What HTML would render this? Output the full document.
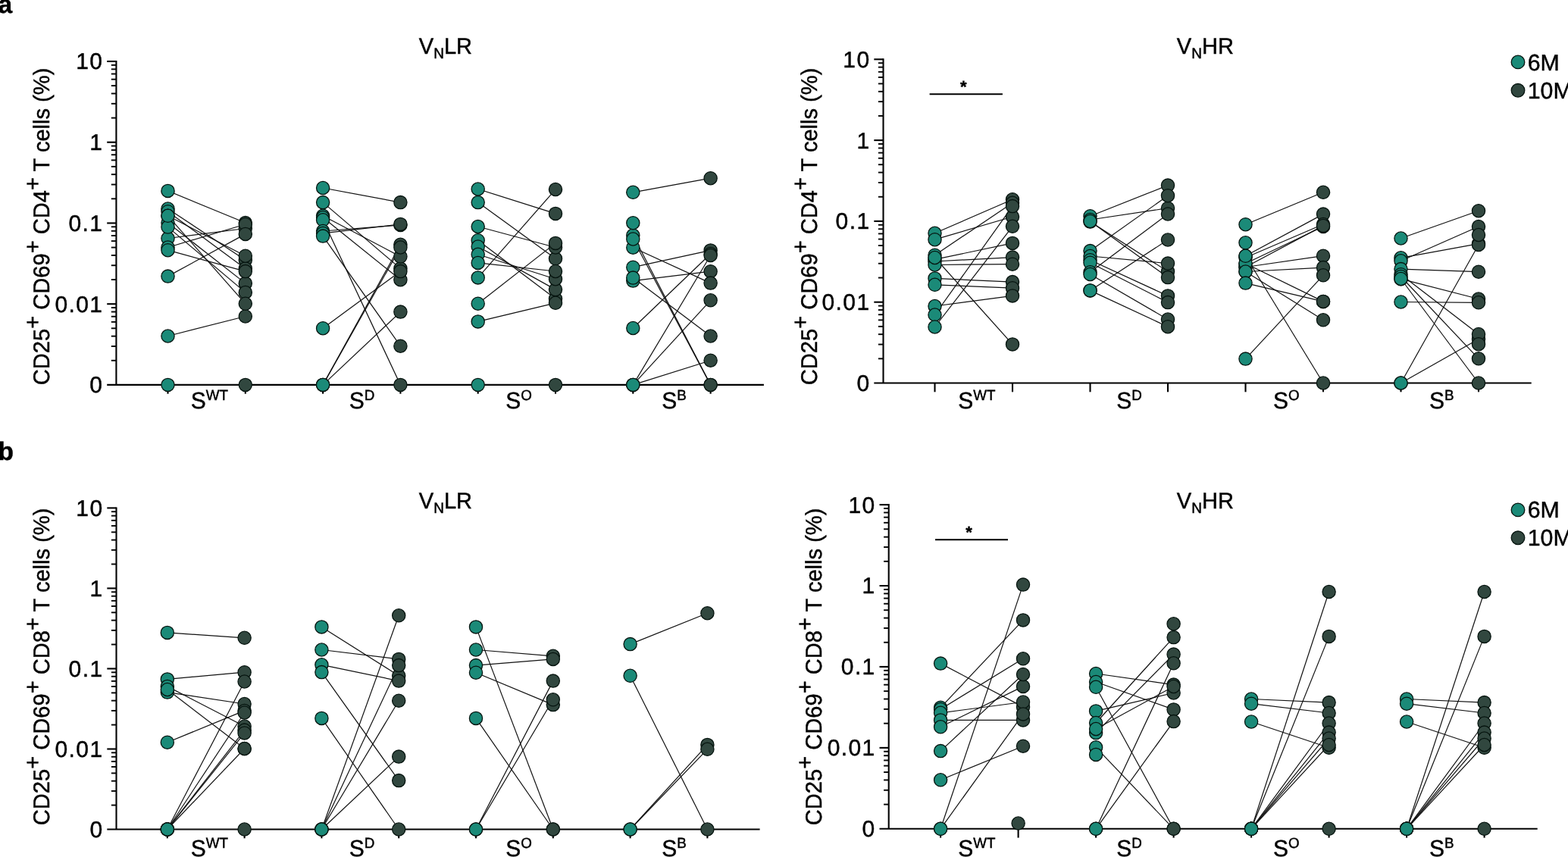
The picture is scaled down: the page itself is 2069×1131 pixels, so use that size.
<!DOCTYPE html>
<html><head><meta charset="utf-8"><style>
html,body{margin:0;padding:0;background:#fff;overflow:hidden}
svg{display:block}
text{font-family:"Liberation Sans",Arial,sans-serif;text-rendering:geometricPrecision;fill:#000;stroke:#000;stroke-width:0.45px}
.pl{font-weight:bold}
.st{font-weight:bold}
.ax{stroke:#000;stroke-width:2.1;fill:none}
.mt{stroke:#000;stroke-width:1.9;fill:none}
.ln{stroke:#111;stroke-width:1.2;fill:none}
.pt{stroke:#06140f;stroke-width:1.3}
</style></head><body>
<svg width="2069" height="1131" viewBox="0 0 2069 1131">
<rect width="2069" height="1131" fill="#fff"/>
<g id="aL">
<line x1="153.4" y1="80.0" x2="153.4" y2="507.9" class="ax"/>
<line x1="141.2" y1="507.9" x2="1007.9" y2="507.9" class="ax"/>
<line x1="141.2" y1="81.00" x2="153.4" y2="81.00" class="ax"/>
<line x1="141.2" y1="187.72" x2="153.4" y2="187.72" class="ax"/>
<line x1="141.2" y1="294.45" x2="153.4" y2="294.45" class="ax"/>
<line x1="141.2" y1="401.17" x2="153.4" y2="401.17" class="ax"/>
<line x1="146.8" y1="155.60" x2="153.4" y2="155.60" class="mt"/>
<line x1="146.8" y1="136.80" x2="153.4" y2="136.80" class="mt"/>
<line x1="146.8" y1="123.47" x2="153.4" y2="123.47" class="mt"/>
<line x1="146.8" y1="113.13" x2="153.4" y2="113.13" class="mt"/>
<line x1="146.8" y1="104.68" x2="153.4" y2="104.68" class="mt"/>
<line x1="146.8" y1="97.53" x2="153.4" y2="97.53" class="mt"/>
<line x1="146.8" y1="91.34" x2="153.4" y2="91.34" class="mt"/>
<line x1="146.8" y1="85.88" x2="153.4" y2="85.88" class="mt"/>
<line x1="146.8" y1="262.32" x2="153.4" y2="262.32" class="mt"/>
<line x1="146.8" y1="243.53" x2="153.4" y2="243.53" class="mt"/>
<line x1="146.8" y1="230.20" x2="153.4" y2="230.20" class="mt"/>
<line x1="146.8" y1="219.85" x2="153.4" y2="219.85" class="mt"/>
<line x1="146.8" y1="211.40" x2="153.4" y2="211.40" class="mt"/>
<line x1="146.8" y1="204.26" x2="153.4" y2="204.26" class="mt"/>
<line x1="146.8" y1="198.07" x2="153.4" y2="198.07" class="mt"/>
<line x1="146.8" y1="192.61" x2="153.4" y2="192.61" class="mt"/>
<line x1="146.8" y1="369.05" x2="153.4" y2="369.05" class="mt"/>
<line x1="146.8" y1="350.25" x2="153.4" y2="350.25" class="mt"/>
<line x1="146.8" y1="336.92" x2="153.4" y2="336.92" class="mt"/>
<line x1="146.8" y1="326.58" x2="153.4" y2="326.58" class="mt"/>
<line x1="146.8" y1="318.13" x2="153.4" y2="318.13" class="mt"/>
<line x1="146.8" y1="310.98" x2="153.4" y2="310.98" class="mt"/>
<line x1="146.8" y1="304.79" x2="153.4" y2="304.79" class="mt"/>
<line x1="146.8" y1="299.33" x2="153.4" y2="299.33" class="mt"/>
<line x1="146.8" y1="475.77" x2="153.4" y2="475.77" class="mt"/>
<line x1="146.8" y1="456.98" x2="153.4" y2="456.98" class="mt"/>
<line x1="146.8" y1="443.65" x2="153.4" y2="443.65" class="mt"/>
<line x1="146.8" y1="433.30" x2="153.4" y2="433.30" class="mt"/>
<line x1="146.8" y1="424.85" x2="153.4" y2="424.85" class="mt"/>
<line x1="146.8" y1="417.71" x2="153.4" y2="417.71" class="mt"/>
<line x1="146.8" y1="411.52" x2="153.4" y2="411.52" class="mt"/>
<line x1="146.8" y1="406.06" x2="153.4" y2="406.06" class="mt"/>
<text transform="translate(136.40,91.40)" font-size="30" class="t" text-anchor="end" letter-spacing="1.4">10</text>
<text transform="translate(136.40,198.12)" font-size="30" class="t" text-anchor="end" letter-spacing="1.4">1</text>
<text transform="translate(136.40,304.85)" font-size="30" class="t" text-anchor="end" letter-spacing="1.4">0.1</text>
<text transform="translate(136.40,411.57)" font-size="30" class="t" text-anchor="end" letter-spacing="1.4">0.01</text>
<text transform="translate(136.40,518.30)" font-size="30" class="t" text-anchor="end" letter-spacing="1.4">0</text>
<line x1="221.50" y1="507.9" x2="221.50" y2="519.6999999999999" class="ax"/>
<line x1="323.80" y1="507.9" x2="323.80" y2="519.6999999999999" class="ax"/>
<line x1="426.10" y1="507.9" x2="426.10" y2="519.6999999999999" class="ax"/>
<line x1="528.40" y1="507.9" x2="528.40" y2="519.6999999999999" class="ax"/>
<line x1="630.70" y1="507.9" x2="630.70" y2="519.6999999999999" class="ax"/>
<line x1="733.00" y1="507.9" x2="733.00" y2="519.6999999999999" class="ax"/>
<line x1="835.30" y1="507.9" x2="835.30" y2="519.6999999999999" class="ax"/>
<line x1="937.60" y1="507.9" x2="937.60" y2="519.6999999999999" class="ax"/>
<text transform="translate(251.65,539.40) scale(1.0,1.02)" font-size="30" class="t">S<tspan font-size="18.8" dy="-11.3">WT</tspan></text>
<text transform="translate(460.65,539.40) scale(1.0,1.02)" font-size="30" class="t">S<tspan font-size="18.8" dy="-11.3">D</tspan></text>
<text transform="translate(667.35,539.40) scale(1.0,1.02)" font-size="30" class="t">S<tspan font-size="18.8" dy="-11.3">O</tspan></text>
<text transform="translate(873.25,539.40) scale(1.0,1.02)" font-size="30" class="t">S<tspan font-size="18.8" dy="-11.3">B</tspan></text>
<text transform="translate(552.86,70.70) scale(1.0,1.03)" font-size="29" class="t">V<tspan font-size="19" dy="5.8">N</tspan><tspan dy="-5.8">LR</tspan></text>
<text transform="translate(64.50,508.15) rotate(-90) scale(1.0,1.03)" font-size="29.1" class="t">CD25<tspan dy="-11.1">+</tspan><tspan dy="11.1"> CD69</tspan><tspan dy="-11.1">+</tspan><tspan dy="11.1"> CD4</tspan><tspan dy="-11.1">+</tspan><tspan dy="11.1"> T cells (%)</tspan></text>
<line x1="221.5" y1="251.9" x2="323.8" y2="294" class="ln"/>
<line x1="221.5" y1="314.5" x2="323.8" y2="301.5" class="ln"/>
<line x1="221.5" y1="326.5" x2="323.8" y2="296" class="ln"/>
<line x1="221.5" y1="364.6" x2="323.8" y2="308.9" class="ln"/>
<line x1="221.5" y1="443.5" x2="323.8" y2="417.5" class="ln"/>
<line x1="221.5" y1="507.9" x2="323.8" y2="507.9" class="ln"/>
<line x1="221.5" y1="275.5" x2="323.8" y2="343.2" class="ln"/>
<line x1="221.5" y1="279.2" x2="323.8" y2="354.4" class="ln"/>
<line x1="221.5" y1="284.8" x2="323.8" y2="337.7" class="ln"/>
<line x1="221.5" y1="294" x2="323.8" y2="373.9" class="ln"/>
<line x1="221.5" y1="299.6" x2="323.8" y2="385.9" class="ln"/>
<line x1="221.5" y1="330.2" x2="323.8" y2="358.1" class="ln"/>
<line x1="221.5" y1="284.8" x2="323.8" y2="400.8" class="ln"/>
<circle cx="221.5" cy="251.9" r="8.6" fill="#1b8a78" class="pt"/>
<circle cx="221.5" cy="314.5" r="8.6" fill="#1b8a78" class="pt"/>
<circle cx="221.5" cy="326.5" r="8.6" fill="#1b8a78" class="pt"/>
<circle cx="221.5" cy="364.6" r="8.6" fill="#1b8a78" class="pt"/>
<circle cx="221.5" cy="443.5" r="8.6" fill="#1b8a78" class="pt"/>
<circle cx="221.5" cy="507.9" r="8.6" fill="#1b8a78" class="pt"/>
<circle cx="221.5" cy="275.5" r="8.6" fill="#1b8a78" class="pt"/>
<circle cx="221.5" cy="279.2" r="8.6" fill="#1b8a78" class="pt"/>
<circle cx="221.5" cy="284.8" r="8.6" fill="#1b8a78" class="pt"/>
<circle cx="221.5" cy="294" r="8.6" fill="#1b8a78" class="pt"/>
<circle cx="221.5" cy="299.6" r="8.6" fill="#1b8a78" class="pt"/>
<circle cx="221.5" cy="330.2" r="8.6" fill="#1b8a78" class="pt"/>
<circle cx="221.5" cy="284.8" r="8.6" fill="#1b8a78" class="pt"/>
<circle cx="323.8" cy="294" r="8.6" fill="#31473f" class="pt"/>
<circle cx="323.8" cy="301.5" r="8.6" fill="#31473f" class="pt"/>
<circle cx="323.8" cy="296" r="8.6" fill="#31473f" class="pt"/>
<circle cx="323.8" cy="308.9" r="8.6" fill="#31473f" class="pt"/>
<circle cx="323.8" cy="417.5" r="8.6" fill="#31473f" class="pt"/>
<circle cx="323.8" cy="507.9" r="8.6" fill="#31473f" class="pt"/>
<circle cx="323.8" cy="343.2" r="8.6" fill="#31473f" class="pt"/>
<circle cx="323.8" cy="354.4" r="8.6" fill="#31473f" class="pt"/>
<circle cx="323.8" cy="337.7" r="8.6" fill="#31473f" class="pt"/>
<circle cx="323.8" cy="373.9" r="8.6" fill="#31473f" class="pt"/>
<circle cx="323.8" cy="385.9" r="8.6" fill="#31473f" class="pt"/>
<circle cx="323.8" cy="358.1" r="8.6" fill="#31473f" class="pt"/>
<circle cx="323.8" cy="400.8" r="8.6" fill="#31473f" class="pt"/>
<line x1="426.1" y1="248" x2="528.4" y2="267.1" class="ln"/>
<line x1="426.1" y1="267.1" x2="528.4" y2="354.4" class="ln"/>
<line x1="426.1" y1="284.8" x2="528.4" y2="338.6" class="ln"/>
<line x1="426.1" y1="287" x2="528.4" y2="369.2" class="ln"/>
<line x1="426.1" y1="290.3" x2="528.4" y2="507.9" class="ln"/>
<line x1="426.1" y1="305" x2="528.4" y2="297" class="ln"/>
<line x1="426.1" y1="307.9" x2="528.4" y2="295.9" class="ln"/>
<line x1="426.1" y1="311.6" x2="528.4" y2="456.7" class="ln"/>
<line x1="426.1" y1="433.2" x2="528.4" y2="358.1" class="ln"/>
<line x1="426.1" y1="507.9" x2="528.4" y2="322.8" class="ln"/>
<line x1="426.1" y1="507.9" x2="528.4" y2="326.5" class="ln"/>
<line x1="426.1" y1="507.9" x2="528.4" y2="411.6" class="ln"/>
<circle cx="426.1" cy="248" r="8.6" fill="#1b8a78" class="pt"/>
<circle cx="426.1" cy="267.1" r="8.6" fill="#1b8a78" class="pt"/>
<circle cx="426.1" cy="284.8" r="8.6" fill="#1b8a78" class="pt"/>
<circle cx="426.1" cy="287" r="8.6" fill="#1b8a78" class="pt"/>
<circle cx="426.1" cy="290.3" r="8.6" fill="#1b8a78" class="pt"/>
<circle cx="426.1" cy="305" r="8.6" fill="#1b8a78" class="pt"/>
<circle cx="426.1" cy="307.9" r="8.6" fill="#1b8a78" class="pt"/>
<circle cx="426.1" cy="311.6" r="8.6" fill="#1b8a78" class="pt"/>
<circle cx="426.1" cy="433.2" r="8.6" fill="#1b8a78" class="pt"/>
<circle cx="426.1" cy="507.9" r="8.6" fill="#1b8a78" class="pt"/>
<circle cx="426.1" cy="507.9" r="8.6" fill="#1b8a78" class="pt"/>
<circle cx="426.1" cy="507.9" r="8.6" fill="#1b8a78" class="pt"/>
<circle cx="528.4" cy="267.1" r="8.6" fill="#31473f" class="pt"/>
<circle cx="528.4" cy="354.4" r="8.6" fill="#31473f" class="pt"/>
<circle cx="528.4" cy="338.6" r="8.6" fill="#31473f" class="pt"/>
<circle cx="528.4" cy="369.2" r="8.6" fill="#31473f" class="pt"/>
<circle cx="528.4" cy="507.9" r="8.6" fill="#31473f" class="pt"/>
<circle cx="528.4" cy="297" r="8.6" fill="#31473f" class="pt"/>
<circle cx="528.4" cy="295.9" r="8.6" fill="#31473f" class="pt"/>
<circle cx="528.4" cy="456.7" r="8.6" fill="#31473f" class="pt"/>
<circle cx="528.4" cy="358.1" r="8.6" fill="#31473f" class="pt"/>
<circle cx="528.4" cy="322.8" r="8.6" fill="#31473f" class="pt"/>
<circle cx="528.4" cy="326.5" r="8.6" fill="#31473f" class="pt"/>
<circle cx="528.4" cy="411.6" r="8.6" fill="#31473f" class="pt"/>
<line x1="630.7" y1="249.5" x2="733.0" y2="281.9" class="ln"/>
<line x1="630.7" y1="267.1" x2="733.0" y2="341.3" class="ln"/>
<line x1="630.7" y1="299" x2="733.0" y2="326.5" class="ln"/>
<line x1="630.7" y1="317.2" x2="733.0" y2="394.2" class="ln"/>
<line x1="630.7" y1="325.5" x2="733.0" y2="382.1" class="ln"/>
<line x1="630.7" y1="335.8" x2="733.0" y2="368.2" class="ln"/>
<line x1="630.7" y1="346.9" x2="733.0" y2="358" class="ln"/>
<line x1="630.7" y1="366.4" x2="733.0" y2="250" class="ln"/>
<line x1="630.7" y1="400.7" x2="733.0" y2="320.9" class="ln"/>
<line x1="630.7" y1="424.4" x2="733.0" y2="399.8" class="ln"/>
<line x1="630.7" y1="507.9" x2="733.0" y2="507.9" class="ln"/>
<circle cx="630.7" cy="249.5" r="8.6" fill="#1b8a78" class="pt"/>
<circle cx="630.7" cy="267.1" r="8.6" fill="#1b8a78" class="pt"/>
<circle cx="630.7" cy="299" r="8.6" fill="#1b8a78" class="pt"/>
<circle cx="630.7" cy="317.2" r="8.6" fill="#1b8a78" class="pt"/>
<circle cx="630.7" cy="325.5" r="8.6" fill="#1b8a78" class="pt"/>
<circle cx="630.7" cy="335.8" r="8.6" fill="#1b8a78" class="pt"/>
<circle cx="630.7" cy="346.9" r="8.6" fill="#1b8a78" class="pt"/>
<circle cx="630.7" cy="366.4" r="8.6" fill="#1b8a78" class="pt"/>
<circle cx="630.7" cy="400.7" r="8.6" fill="#1b8a78" class="pt"/>
<circle cx="630.7" cy="424.4" r="8.6" fill="#1b8a78" class="pt"/>
<circle cx="630.7" cy="507.9" r="8.6" fill="#1b8a78" class="pt"/>
<circle cx="733.0" cy="281.9" r="8.6" fill="#31473f" class="pt"/>
<circle cx="733.0" cy="341.3" r="8.6" fill="#31473f" class="pt"/>
<circle cx="733.0" cy="326.5" r="8.6" fill="#31473f" class="pt"/>
<circle cx="733.0" cy="394.2" r="8.6" fill="#31473f" class="pt"/>
<circle cx="733.0" cy="382.1" r="8.6" fill="#31473f" class="pt"/>
<circle cx="733.0" cy="368.2" r="8.6" fill="#31473f" class="pt"/>
<circle cx="733.0" cy="358" r="8.6" fill="#31473f" class="pt"/>
<circle cx="733.0" cy="250" r="8.6" fill="#31473f" class="pt"/>
<circle cx="733.0" cy="320.9" r="8.6" fill="#31473f" class="pt"/>
<circle cx="733.0" cy="399.8" r="8.6" fill="#31473f" class="pt"/>
<circle cx="733.0" cy="507.9" r="8.6" fill="#31473f" class="pt"/>
<line x1="835.3" y1="253.8" x2="937.6" y2="235.2" class="ln"/>
<line x1="835.3" y1="352.7" x2="937.6" y2="330.4" class="ln"/>
<line x1="835.3" y1="433" x2="937.6" y2="335" class="ln"/>
<line x1="835.3" y1="370.6" x2="937.6" y2="358.2" class="ln"/>
<line x1="835.3" y1="326.7" x2="937.6" y2="373.6" class="ln"/>
<line x1="835.3" y1="507.9" x2="937.6" y2="337" class="ln"/>
<line x1="835.3" y1="507.9" x2="937.6" y2="396.3" class="ln"/>
<line x1="835.3" y1="366.6" x2="937.6" y2="443.5" class="ln"/>
<line x1="835.3" y1="507.9" x2="937.6" y2="475.7" class="ln"/>
<line x1="835.3" y1="310.5" x2="937.6" y2="507.9" class="ln"/>
<line x1="835.3" y1="315.5" x2="937.6" y2="507.9" class="ln"/>
<circle cx="835.3" cy="253.8" r="8.6" fill="#1b8a78" class="pt"/>
<circle cx="835.3" cy="352.7" r="8.6" fill="#1b8a78" class="pt"/>
<circle cx="835.3" cy="433" r="8.6" fill="#1b8a78" class="pt"/>
<circle cx="835.3" cy="370.6" r="8.6" fill="#1b8a78" class="pt"/>
<circle cx="835.3" cy="326.7" r="8.6" fill="#1b8a78" class="pt"/>
<circle cx="835.3" cy="507.9" r="8.6" fill="#1b8a78" class="pt"/>
<circle cx="835.3" cy="507.9" r="8.6" fill="#1b8a78" class="pt"/>
<circle cx="835.3" cy="366.6" r="8.6" fill="#1b8a78" class="pt"/>
<circle cx="835.3" cy="507.9" r="8.6" fill="#1b8a78" class="pt"/>
<circle cx="835.3" cy="310.5" r="8.6" fill="#1b8a78" class="pt"/>
<circle cx="835.3" cy="315.5" r="8.6" fill="#1b8a78" class="pt"/>
<circle cx="835.3" cy="294.2" r="8.6" fill="#1b8a78" class="pt"/>
<circle cx="937.6" cy="235.2" r="8.6" fill="#31473f" class="pt"/>
<circle cx="937.6" cy="330.4" r="8.6" fill="#31473f" class="pt"/>
<circle cx="937.6" cy="335" r="8.6" fill="#31473f" class="pt"/>
<circle cx="937.6" cy="358.2" r="8.6" fill="#31473f" class="pt"/>
<circle cx="937.6" cy="373.6" r="8.6" fill="#31473f" class="pt"/>
<circle cx="937.6" cy="337" r="8.6" fill="#31473f" class="pt"/>
<circle cx="937.6" cy="396.3" r="8.6" fill="#31473f" class="pt"/>
<circle cx="937.6" cy="443.5" r="8.6" fill="#31473f" class="pt"/>
<circle cx="937.6" cy="475.7" r="8.6" fill="#31473f" class="pt"/>
<circle cx="937.6" cy="507.9" r="8.6" fill="#31473f" class="pt"/>
<circle cx="937.6" cy="507.9" r="8.6" fill="#31473f" class="pt"/>
</g>
<g id="aR">
<line x1="1165.5" y1="77.3" x2="1165.5" y2="505.5" class="ax"/>
<line x1="1153.3" y1="505.5" x2="2020.7" y2="505.5" class="ax"/>
<line x1="1153.3" y1="78.30" x2="1165.5" y2="78.30" class="ax"/>
<line x1="1153.3" y1="185.10" x2="1165.5" y2="185.10" class="ax"/>
<line x1="1153.3" y1="291.90" x2="1165.5" y2="291.90" class="ax"/>
<line x1="1153.3" y1="398.70" x2="1165.5" y2="398.70" class="ax"/>
<line x1="1158.9" y1="152.95" x2="1165.5" y2="152.95" class="mt"/>
<line x1="1158.9" y1="134.14" x2="1165.5" y2="134.14" class="mt"/>
<line x1="1158.9" y1="120.80" x2="1165.5" y2="120.80" class="mt"/>
<line x1="1158.9" y1="110.45" x2="1165.5" y2="110.45" class="mt"/>
<line x1="1158.9" y1="101.99" x2="1165.5" y2="101.99" class="mt"/>
<line x1="1158.9" y1="94.84" x2="1165.5" y2="94.84" class="mt"/>
<line x1="1158.9" y1="88.65" x2="1165.5" y2="88.65" class="mt"/>
<line x1="1158.9" y1="83.19" x2="1165.5" y2="83.19" class="mt"/>
<line x1="1158.9" y1="259.75" x2="1165.5" y2="259.75" class="mt"/>
<line x1="1158.9" y1="240.94" x2="1165.5" y2="240.94" class="mt"/>
<line x1="1158.9" y1="227.60" x2="1165.5" y2="227.60" class="mt"/>
<line x1="1158.9" y1="217.25" x2="1165.5" y2="217.25" class="mt"/>
<line x1="1158.9" y1="208.79" x2="1165.5" y2="208.79" class="mt"/>
<line x1="1158.9" y1="201.64" x2="1165.5" y2="201.64" class="mt"/>
<line x1="1158.9" y1="195.45" x2="1165.5" y2="195.45" class="mt"/>
<line x1="1158.9" y1="189.99" x2="1165.5" y2="189.99" class="mt"/>
<line x1="1158.9" y1="366.55" x2="1165.5" y2="366.55" class="mt"/>
<line x1="1158.9" y1="347.74" x2="1165.5" y2="347.74" class="mt"/>
<line x1="1158.9" y1="334.40" x2="1165.5" y2="334.40" class="mt"/>
<line x1="1158.9" y1="324.05" x2="1165.5" y2="324.05" class="mt"/>
<line x1="1158.9" y1="315.59" x2="1165.5" y2="315.59" class="mt"/>
<line x1="1158.9" y1="308.44" x2="1165.5" y2="308.44" class="mt"/>
<line x1="1158.9" y1="302.25" x2="1165.5" y2="302.25" class="mt"/>
<line x1="1158.9" y1="296.79" x2="1165.5" y2="296.79" class="mt"/>
<line x1="1158.9" y1="473.35" x2="1165.5" y2="473.35" class="mt"/>
<line x1="1158.9" y1="454.54" x2="1165.5" y2="454.54" class="mt"/>
<line x1="1158.9" y1="441.20" x2="1165.5" y2="441.20" class="mt"/>
<line x1="1158.9" y1="430.85" x2="1165.5" y2="430.85" class="mt"/>
<line x1="1158.9" y1="422.39" x2="1165.5" y2="422.39" class="mt"/>
<line x1="1158.9" y1="415.24" x2="1165.5" y2="415.24" class="mt"/>
<line x1="1158.9" y1="409.05" x2="1165.5" y2="409.05" class="mt"/>
<line x1="1158.9" y1="403.59" x2="1165.5" y2="403.59" class="mt"/>
<text transform="translate(1148.50,88.70)" font-size="30" class="t" text-anchor="end" letter-spacing="1.4">10</text>
<text transform="translate(1148.50,195.50)" font-size="30" class="t" text-anchor="end" letter-spacing="1.4">1</text>
<text transform="translate(1148.50,302.30)" font-size="30" class="t" text-anchor="end" letter-spacing="1.4">0.1</text>
<text transform="translate(1148.50,409.10)" font-size="30" class="t" text-anchor="end" letter-spacing="1.4">0.01</text>
<text transform="translate(1148.50,515.90)" font-size="30" class="t" text-anchor="end" letter-spacing="1.4">0</text>
<line x1="1233.50" y1="505.5" x2="1233.50" y2="517.3" class="ax"/>
<line x1="1336.00" y1="505.5" x2="1336.00" y2="517.3" class="ax"/>
<line x1="1438.50" y1="505.5" x2="1438.50" y2="517.3" class="ax"/>
<line x1="1541.00" y1="505.5" x2="1541.00" y2="517.3" class="ax"/>
<line x1="1643.50" y1="505.5" x2="1643.50" y2="517.3" class="ax"/>
<line x1="1746.00" y1="505.5" x2="1746.00" y2="517.3" class="ax"/>
<line x1="1848.50" y1="505.5" x2="1848.50" y2="517.3" class="ax"/>
<line x1="1951.00" y1="505.5" x2="1951.00" y2="517.3" class="ax"/>
<text transform="translate(1264.35,539.40) scale(1.0,1.02)" font-size="30" class="t">S<tspan font-size="18.8" dy="-11.3">WT</tspan></text>
<text transform="translate(1473.35,539.40) scale(1.0,1.02)" font-size="30" class="t">S<tspan font-size="18.8" dy="-11.3">D</tspan></text>
<text transform="translate(1680.05,539.40) scale(1.0,1.02)" font-size="30" class="t">S<tspan font-size="18.8" dy="-11.3">O</tspan></text>
<text transform="translate(1885.95,539.40) scale(1.0,1.02)" font-size="30" class="t">S<tspan font-size="18.8" dy="-11.3">B</tspan></text>
<text transform="translate(1552.86,70.70) scale(1.0,1.03)" font-size="29" class="t">V<tspan font-size="19" dy="5.8">N</tspan><tspan dy="-5.8">HR</tspan></text>
<text transform="translate(1077.70,508.15) rotate(-90) scale(1.0,1.03)" font-size="29.1" class="t">CD25<tspan dy="-11.1">+</tspan><tspan dy="11.1"> CD69</tspan><tspan dy="-11.1">+</tspan><tspan dy="11.1"> CD4</tspan><tspan dy="-11.1">+</tspan><tspan dy="11.1"> T cells (%)</tspan></text>
<line x1="1233.5" y1="307.8" x2="1336.0" y2="263.3" class="ln"/>
<line x1="1233.5" y1="316.2" x2="1336.0" y2="286" class="ln"/>
<line x1="1233.5" y1="336.7" x2="1336.0" y2="267.8" class="ln"/>
<line x1="1233.5" y1="342.4" x2="1336.0" y2="320.9" class="ln"/>
<line x1="1233.5" y1="345" x2="1336.0" y2="339.6" class="ln"/>
<line x1="1233.5" y1="349.5" x2="1336.0" y2="348.7" class="ln"/>
<line x1="1233.5" y1="340" x2="1336.0" y2="454.4" class="ln"/>
<line x1="1233.5" y1="367.4" x2="1336.0" y2="372.1" class="ln"/>
<line x1="1233.5" y1="375.8" x2="1336.0" y2="380.2" class="ln"/>
<line x1="1233.5" y1="404" x2="1336.0" y2="390.4" class="ln"/>
<line x1="1233.5" y1="415.5" x2="1336.0" y2="272.1" class="ln"/>
<line x1="1233.5" y1="431.5" x2="1336.0" y2="298.8" class="ln"/>
<circle cx="1233.5" cy="307.8" r="8.6" fill="#1b8a78" class="pt"/>
<circle cx="1233.5" cy="316.2" r="8.6" fill="#1b8a78" class="pt"/>
<circle cx="1233.5" cy="336.7" r="8.6" fill="#1b8a78" class="pt"/>
<circle cx="1233.5" cy="342.4" r="8.6" fill="#1b8a78" class="pt"/>
<circle cx="1233.5" cy="345" r="8.6" fill="#1b8a78" class="pt"/>
<circle cx="1233.5" cy="349.5" r="8.6" fill="#1b8a78" class="pt"/>
<circle cx="1233.5" cy="340" r="8.6" fill="#1b8a78" class="pt"/>
<circle cx="1233.5" cy="367.4" r="8.6" fill="#1b8a78" class="pt"/>
<circle cx="1233.5" cy="375.8" r="8.6" fill="#1b8a78" class="pt"/>
<circle cx="1233.5" cy="404" r="8.6" fill="#1b8a78" class="pt"/>
<circle cx="1233.5" cy="415.5" r="8.6" fill="#1b8a78" class="pt"/>
<circle cx="1233.5" cy="431.5" r="8.6" fill="#1b8a78" class="pt"/>
<circle cx="1336.0" cy="263.3" r="8.6" fill="#31473f" class="pt"/>
<circle cx="1336.0" cy="286" r="8.6" fill="#31473f" class="pt"/>
<circle cx="1336.0" cy="267.8" r="8.6" fill="#31473f" class="pt"/>
<circle cx="1336.0" cy="320.9" r="8.6" fill="#31473f" class="pt"/>
<circle cx="1336.0" cy="339.6" r="8.6" fill="#31473f" class="pt"/>
<circle cx="1336.0" cy="348.7" r="8.6" fill="#31473f" class="pt"/>
<circle cx="1336.0" cy="454.4" r="8.6" fill="#31473f" class="pt"/>
<circle cx="1336.0" cy="372.1" r="8.6" fill="#31473f" class="pt"/>
<circle cx="1336.0" cy="380.2" r="8.6" fill="#31473f" class="pt"/>
<circle cx="1336.0" cy="390.4" r="8.6" fill="#31473f" class="pt"/>
<circle cx="1336.0" cy="272.1" r="8.6" fill="#31473f" class="pt"/>
<circle cx="1336.0" cy="298.8" r="8.6" fill="#31473f" class="pt"/>
<line x1="1438.5" y1="285.2" x2="1541.0" y2="244.6" class="ln"/>
<line x1="1438.5" y1="290" x2="1541.0" y2="274.7" class="ln"/>
<line x1="1438.5" y1="292.6" x2="1541.0" y2="358.3" class="ln"/>
<line x1="1438.5" y1="292" x2="1541.0" y2="366.1" class="ln"/>
<line x1="1438.5" y1="331.1" x2="1541.0" y2="258.2" class="ln"/>
<line x1="1438.5" y1="338" x2="1541.0" y2="347.6" class="ln"/>
<line x1="1438.5" y1="343.2" x2="1541.0" y2="390.4" class="ln"/>
<line x1="1438.5" y1="346.7" x2="1541.0" y2="399.1" class="ln"/>
<line x1="1438.5" y1="359.3" x2="1541.0" y2="282.5" class="ln"/>
<line x1="1438.5" y1="362" x2="1541.0" y2="421.5" class="ln"/>
<line x1="1438.5" y1="383.4" x2="1541.0" y2="316.5" class="ln"/>
<line x1="1438.5" y1="383.4" x2="1541.0" y2="431.2" class="ln"/>
<circle cx="1438.5" cy="285.2" r="8.6" fill="#1b8a78" class="pt"/>
<circle cx="1438.5" cy="290" r="8.6" fill="#1b8a78" class="pt"/>
<circle cx="1438.5" cy="292.6" r="8.6" fill="#1b8a78" class="pt"/>
<circle cx="1438.5" cy="292" r="8.6" fill="#1b8a78" class="pt"/>
<circle cx="1438.5" cy="331.1" r="8.6" fill="#1b8a78" class="pt"/>
<circle cx="1438.5" cy="338" r="8.6" fill="#1b8a78" class="pt"/>
<circle cx="1438.5" cy="343.2" r="8.6" fill="#1b8a78" class="pt"/>
<circle cx="1438.5" cy="346.7" r="8.6" fill="#1b8a78" class="pt"/>
<circle cx="1438.5" cy="359.3" r="8.6" fill="#1b8a78" class="pt"/>
<circle cx="1438.5" cy="362" r="8.6" fill="#1b8a78" class="pt"/>
<circle cx="1438.5" cy="383.4" r="8.6" fill="#1b8a78" class="pt"/>
<circle cx="1438.5" cy="383.4" r="8.6" fill="#1b8a78" class="pt"/>
<circle cx="1541.0" cy="244.6" r="8.6" fill="#31473f" class="pt"/>
<circle cx="1541.0" cy="274.7" r="8.6" fill="#31473f" class="pt"/>
<circle cx="1541.0" cy="358.3" r="8.6" fill="#31473f" class="pt"/>
<circle cx="1541.0" cy="366.1" r="8.6" fill="#31473f" class="pt"/>
<circle cx="1541.0" cy="258.2" r="8.6" fill="#31473f" class="pt"/>
<circle cx="1541.0" cy="347.6" r="8.6" fill="#31473f" class="pt"/>
<circle cx="1541.0" cy="390.4" r="8.6" fill="#31473f" class="pt"/>
<circle cx="1541.0" cy="399.1" r="8.6" fill="#31473f" class="pt"/>
<circle cx="1541.0" cy="282.5" r="8.6" fill="#31473f" class="pt"/>
<circle cx="1541.0" cy="421.5" r="8.6" fill="#31473f" class="pt"/>
<circle cx="1541.0" cy="316.5" r="8.6" fill="#31473f" class="pt"/>
<circle cx="1541.0" cy="431.2" r="8.6" fill="#31473f" class="pt"/>
<line x1="1643.5" y1="296.2" x2="1746.0" y2="253.8" class="ln"/>
<line x1="1643.5" y1="337.8" x2="1746.0" y2="282.6" class="ln"/>
<line x1="1643.5" y1="340" x2="1746.0" y2="296" class="ln"/>
<line x1="1643.5" y1="347.7" x2="1746.0" y2="299" class="ln"/>
<line x1="1643.5" y1="352.5" x2="1746.0" y2="297.9" class="ln"/>
<line x1="1643.5" y1="352.5" x2="1746.0" y2="337.7" class="ln"/>
<line x1="1643.5" y1="358.5" x2="1746.0" y2="353.1" class="ln"/>
<line x1="1643.5" y1="347.7" x2="1746.0" y2="397.9" class="ln"/>
<line x1="1643.5" y1="358.5" x2="1746.0" y2="422.3" class="ln"/>
<line x1="1643.5" y1="373.6" x2="1746.0" y2="397.9" class="ln"/>
<line x1="1643.5" y1="337.8" x2="1746.0" y2="505.5" class="ln"/>
<line x1="1643.5" y1="473.6" x2="1746.0" y2="363.3" class="ln"/>
<circle cx="1643.5" cy="296.2" r="8.6" fill="#1b8a78" class="pt"/>
<circle cx="1643.5" cy="337.8" r="8.6" fill="#1b8a78" class="pt"/>
<circle cx="1643.5" cy="340" r="8.6" fill="#1b8a78" class="pt"/>
<circle cx="1643.5" cy="347.7" r="8.6" fill="#1b8a78" class="pt"/>
<circle cx="1643.5" cy="352.5" r="8.6" fill="#1b8a78" class="pt"/>
<circle cx="1643.5" cy="352.5" r="8.6" fill="#1b8a78" class="pt"/>
<circle cx="1643.5" cy="358.5" r="8.6" fill="#1b8a78" class="pt"/>
<circle cx="1643.5" cy="347.7" r="8.6" fill="#1b8a78" class="pt"/>
<circle cx="1643.5" cy="358.5" r="8.6" fill="#1b8a78" class="pt"/>
<circle cx="1643.5" cy="373.6" r="8.6" fill="#1b8a78" class="pt"/>
<circle cx="1643.5" cy="337.8" r="8.6" fill="#1b8a78" class="pt"/>
<circle cx="1643.5" cy="473.6" r="8.6" fill="#1b8a78" class="pt"/>
<circle cx="1643.5" cy="320.3" r="8.6" fill="#1b8a78" class="pt"/>
<circle cx="1746.0" cy="253.8" r="8.6" fill="#31473f" class="pt"/>
<circle cx="1746.0" cy="282.6" r="8.6" fill="#31473f" class="pt"/>
<circle cx="1746.0" cy="296" r="8.6" fill="#31473f" class="pt"/>
<circle cx="1746.0" cy="299" r="8.6" fill="#31473f" class="pt"/>
<circle cx="1746.0" cy="297.9" r="8.6" fill="#31473f" class="pt"/>
<circle cx="1746.0" cy="337.7" r="8.6" fill="#31473f" class="pt"/>
<circle cx="1746.0" cy="353.1" r="8.6" fill="#31473f" class="pt"/>
<circle cx="1746.0" cy="397.9" r="8.6" fill="#31473f" class="pt"/>
<circle cx="1746.0" cy="422.3" r="8.6" fill="#31473f" class="pt"/>
<circle cx="1746.0" cy="397.9" r="8.6" fill="#31473f" class="pt"/>
<circle cx="1746.0" cy="505.5" r="8.6" fill="#31473f" class="pt"/>
<circle cx="1746.0" cy="363.3" r="8.6" fill="#31473f" class="pt"/>
<line x1="1848.5" y1="314.5" x2="1951.0" y2="278.2" class="ln"/>
<line x1="1848.5" y1="340.3" x2="1951.0" y2="321.6" class="ln"/>
<line x1="1848.5" y1="344.3" x2="1951.0" y2="299" class="ln"/>
<line x1="1848.5" y1="355.1" x2="1951.0" y2="358.7" class="ln"/>
<line x1="1848.5" y1="368.2" x2="1951.0" y2="394.5" class="ln"/>
<line x1="1848.5" y1="398.5" x2="1951.0" y2="399.3" class="ln"/>
<line x1="1848.5" y1="505.5" x2="1951.0" y2="323" class="ln"/>
<line x1="1848.5" y1="505.5" x2="1951.0" y2="447.5" class="ln"/>
<line x1="1848.5" y1="362.2" x2="1951.0" y2="441" class="ln"/>
<line x1="1848.5" y1="365" x2="1951.0" y2="473.3" class="ln"/>
<line x1="1848.5" y1="368" x2="1951.0" y2="505.5" class="ln"/>
<circle cx="1848.5" cy="314.5" r="8.6" fill="#1b8a78" class="pt"/>
<circle cx="1848.5" cy="340.3" r="8.6" fill="#1b8a78" class="pt"/>
<circle cx="1848.5" cy="344.3" r="8.6" fill="#1b8a78" class="pt"/>
<circle cx="1848.5" cy="355.1" r="8.6" fill="#1b8a78" class="pt"/>
<circle cx="1848.5" cy="368.2" r="8.6" fill="#1b8a78" class="pt"/>
<circle cx="1848.5" cy="398.5" r="8.6" fill="#1b8a78" class="pt"/>
<circle cx="1848.5" cy="505.5" r="8.6" fill="#1b8a78" class="pt"/>
<circle cx="1848.5" cy="505.5" r="8.6" fill="#1b8a78" class="pt"/>
<circle cx="1848.5" cy="362.2" r="8.6" fill="#1b8a78" class="pt"/>
<circle cx="1848.5" cy="365" r="8.6" fill="#1b8a78" class="pt"/>
<circle cx="1848.5" cy="368" r="8.6" fill="#1b8a78" class="pt"/>
<circle cx="1951.0" cy="278.2" r="8.6" fill="#31473f" class="pt"/>
<circle cx="1951.0" cy="321.6" r="8.6" fill="#31473f" class="pt"/>
<circle cx="1951.0" cy="299" r="8.6" fill="#31473f" class="pt"/>
<circle cx="1951.0" cy="358.7" r="8.6" fill="#31473f" class="pt"/>
<circle cx="1951.0" cy="394.5" r="8.6" fill="#31473f" class="pt"/>
<circle cx="1951.0" cy="399.3" r="8.6" fill="#31473f" class="pt"/>
<circle cx="1951.0" cy="323" r="8.6" fill="#31473f" class="pt"/>
<circle cx="1951.0" cy="447.5" r="8.6" fill="#31473f" class="pt"/>
<circle cx="1951.0" cy="441" r="8.6" fill="#31473f" class="pt"/>
<circle cx="1951.0" cy="473.3" r="8.6" fill="#31473f" class="pt"/>
<circle cx="1951.0" cy="505.5" r="8.6" fill="#31473f" class="pt"/>
<circle cx="1951.0" cy="310" r="8.6" fill="#31473f" class="pt"/>
<circle cx="1951.0" cy="454.2" r="8.6" fill="#31473f" class="pt"/>
</g>
<g id="bL">
<line x1="153.5" y1="669.4" x2="153.5" y2="1094.5" class="ax"/>
<line x1="141.3" y1="1094.5" x2="1002.6" y2="1094.5" class="ax"/>
<line x1="141.3" y1="670.40" x2="153.5" y2="670.40" class="ax"/>
<line x1="141.3" y1="776.42" x2="153.5" y2="776.42" class="ax"/>
<line x1="141.3" y1="882.45" x2="153.5" y2="882.45" class="ax"/>
<line x1="141.3" y1="988.48" x2="153.5" y2="988.48" class="ax"/>
<line x1="146.9" y1="744.51" x2="153.5" y2="744.51" class="mt"/>
<line x1="146.9" y1="725.84" x2="153.5" y2="725.84" class="mt"/>
<line x1="146.9" y1="712.59" x2="153.5" y2="712.59" class="mt"/>
<line x1="146.9" y1="702.32" x2="153.5" y2="702.32" class="mt"/>
<line x1="146.9" y1="693.92" x2="153.5" y2="693.92" class="mt"/>
<line x1="146.9" y1="686.82" x2="153.5" y2="686.82" class="mt"/>
<line x1="146.9" y1="680.67" x2="153.5" y2="680.67" class="mt"/>
<line x1="146.9" y1="675.25" x2="153.5" y2="675.25" class="mt"/>
<line x1="146.9" y1="850.53" x2="153.5" y2="850.53" class="mt"/>
<line x1="146.9" y1="831.86" x2="153.5" y2="831.86" class="mt"/>
<line x1="146.9" y1="818.62" x2="153.5" y2="818.62" class="mt"/>
<line x1="146.9" y1="808.34" x2="153.5" y2="808.34" class="mt"/>
<line x1="146.9" y1="799.95" x2="153.5" y2="799.95" class="mt"/>
<line x1="146.9" y1="792.85" x2="153.5" y2="792.85" class="mt"/>
<line x1="146.9" y1="786.70" x2="153.5" y2="786.70" class="mt"/>
<line x1="146.9" y1="781.28" x2="153.5" y2="781.28" class="mt"/>
<line x1="146.9" y1="956.56" x2="153.5" y2="956.56" class="mt"/>
<line x1="146.9" y1="937.89" x2="153.5" y2="937.89" class="mt"/>
<line x1="146.9" y1="924.64" x2="153.5" y2="924.64" class="mt"/>
<line x1="146.9" y1="914.37" x2="153.5" y2="914.37" class="mt"/>
<line x1="146.9" y1="905.97" x2="153.5" y2="905.97" class="mt"/>
<line x1="146.9" y1="898.87" x2="153.5" y2="898.87" class="mt"/>
<line x1="146.9" y1="892.72" x2="153.5" y2="892.72" class="mt"/>
<line x1="146.9" y1="887.30" x2="153.5" y2="887.30" class="mt"/>
<line x1="146.9" y1="1062.58" x2="153.5" y2="1062.58" class="mt"/>
<line x1="146.9" y1="1043.91" x2="153.5" y2="1043.91" class="mt"/>
<line x1="146.9" y1="1030.67" x2="153.5" y2="1030.67" class="mt"/>
<line x1="146.9" y1="1020.39" x2="153.5" y2="1020.39" class="mt"/>
<line x1="146.9" y1="1012.00" x2="153.5" y2="1012.00" class="mt"/>
<line x1="146.9" y1="1004.90" x2="153.5" y2="1004.90" class="mt"/>
<line x1="146.9" y1="998.75" x2="153.5" y2="998.75" class="mt"/>
<line x1="146.9" y1="993.33" x2="153.5" y2="993.33" class="mt"/>
<text transform="translate(136.50,680.80)" font-size="30" class="t" text-anchor="end" letter-spacing="1.4">10</text>
<text transform="translate(136.50,786.82)" font-size="30" class="t" text-anchor="end" letter-spacing="1.4">1</text>
<text transform="translate(136.50,892.85)" font-size="30" class="t" text-anchor="end" letter-spacing="1.4">0.1</text>
<text transform="translate(136.50,998.88)" font-size="30" class="t" text-anchor="end" letter-spacing="1.4">0.01</text>
<text transform="translate(136.50,1104.90)" font-size="30" class="t" text-anchor="end" letter-spacing="1.4">0</text>
<line x1="220.80" y1="1094.5" x2="220.80" y2="1106.3" class="ax"/>
<line x1="322.60" y1="1094.5" x2="322.60" y2="1106.3" class="ax"/>
<line x1="424.40" y1="1094.5" x2="424.40" y2="1106.3" class="ax"/>
<line x1="526.20" y1="1094.5" x2="526.20" y2="1106.3" class="ax"/>
<line x1="628.00" y1="1094.5" x2="628.00" y2="1106.3" class="ax"/>
<line x1="729.80" y1="1094.5" x2="729.80" y2="1106.3" class="ax"/>
<line x1="831.60" y1="1094.5" x2="831.60" y2="1106.3" class="ax"/>
<line x1="933.40" y1="1094.5" x2="933.40" y2="1106.3" class="ax"/>
<text transform="translate(251.65,1130.40) scale(1.0,1.02)" font-size="30" class="t">S<tspan font-size="18.8" dy="-11.3">WT</tspan></text>
<text transform="translate(460.65,1130.40) scale(1.0,1.02)" font-size="30" class="t">S<tspan font-size="18.8" dy="-11.3">D</tspan></text>
<text transform="translate(667.35,1130.40) scale(1.0,1.02)" font-size="30" class="t">S<tspan font-size="18.8" dy="-11.3">O</tspan></text>
<text transform="translate(873.25,1130.40) scale(1.0,1.02)" font-size="30" class="t">S<tspan font-size="18.8" dy="-11.3">B</tspan></text>
<text transform="translate(552.86,670.80) scale(1.0,1.03)" font-size="29" class="t">V<tspan font-size="19" dy="5.8">N</tspan><tspan dy="-5.8">LR</tspan></text>
<text transform="translate(64.50,1089.15) rotate(-90) scale(1.0,1.03)" font-size="29.1" class="t">CD25<tspan dy="-11.1">+</tspan><tspan dy="11.1"> CD69</tspan><tspan dy="-11.1">+</tspan><tspan dy="11.1"> CD8</tspan><tspan dy="-11.1">+</tspan><tspan dy="11.1"> T cells (%)</tspan></text>
<line x1="220.8" y1="834.9" x2="322.6" y2="841.8" class="ln"/>
<line x1="220.8" y1="896.4" x2="322.6" y2="887.2" class="ln"/>
<line x1="220.8" y1="905.9" x2="322.6" y2="958.5" class="ln"/>
<line x1="220.8" y1="913.6" x2="322.6" y2="929" class="ln"/>
<line x1="220.8" y1="910" x2="322.6" y2="988" class="ln"/>
<line x1="220.8" y1="979.7" x2="322.6" y2="937.9" class="ln"/>
<line x1="220.8" y1="1094.5" x2="322.6" y2="899.5" class="ln"/>
<line x1="220.8" y1="1094.5" x2="322.6" y2="940.5" class="ln"/>
<line x1="220.8" y1="1094.5" x2="322.6" y2="963.6" class="ln"/>
<line x1="220.8" y1="1094.5" x2="322.6" y2="967.4" class="ln"/>
<line x1="220.8" y1="1094.5" x2="322.6" y2="988" class="ln"/>
<line x1="220.8" y1="1094.5" x2="322.6" y2="1094.5" class="ln"/>
<circle cx="220.8" cy="834.9" r="8.6" fill="#1b8a78" class="pt"/>
<circle cx="220.8" cy="896.4" r="8.6" fill="#1b8a78" class="pt"/>
<circle cx="220.8" cy="905.9" r="8.6" fill="#1b8a78" class="pt"/>
<circle cx="220.8" cy="913.6" r="8.6" fill="#1b8a78" class="pt"/>
<circle cx="220.8" cy="910" r="8.6" fill="#1b8a78" class="pt"/>
<circle cx="220.8" cy="979.7" r="8.6" fill="#1b8a78" class="pt"/>
<circle cx="220.8" cy="1094.5" r="8.6" fill="#1b8a78" class="pt"/>
<circle cx="220.8" cy="1094.5" r="8.6" fill="#1b8a78" class="pt"/>
<circle cx="220.8" cy="1094.5" r="8.6" fill="#1b8a78" class="pt"/>
<circle cx="220.8" cy="1094.5" r="8.6" fill="#1b8a78" class="pt"/>
<circle cx="220.8" cy="1094.5" r="8.6" fill="#1b8a78" class="pt"/>
<circle cx="220.8" cy="1094.5" r="8.6" fill="#1b8a78" class="pt"/>
<circle cx="322.6" cy="841.8" r="8.6" fill="#31473f" class="pt"/>
<circle cx="322.6" cy="887.2" r="8.6" fill="#31473f" class="pt"/>
<circle cx="322.6" cy="958.5" r="8.6" fill="#31473f" class="pt"/>
<circle cx="322.6" cy="929" r="8.6" fill="#31473f" class="pt"/>
<circle cx="322.6" cy="988" r="8.6" fill="#31473f" class="pt"/>
<circle cx="322.6" cy="937.9" r="8.6" fill="#31473f" class="pt"/>
<circle cx="322.6" cy="899.5" r="8.6" fill="#31473f" class="pt"/>
<circle cx="322.6" cy="940.5" r="8.6" fill="#31473f" class="pt"/>
<circle cx="322.6" cy="963.6" r="8.6" fill="#31473f" class="pt"/>
<circle cx="322.6" cy="967.4" r="8.6" fill="#31473f" class="pt"/>
<circle cx="322.6" cy="988" r="8.6" fill="#31473f" class="pt"/>
<circle cx="322.6" cy="1094.5" r="8.6" fill="#31473f" class="pt"/>
<line x1="424.4" y1="827.4" x2="526.2" y2="891.8" class="ln"/>
<line x1="424.4" y1="857.5" x2="526.2" y2="869.9" class="ln"/>
<line x1="424.4" y1="877.3" x2="526.2" y2="898.6" class="ln"/>
<line x1="424.4" y1="887.1" x2="526.2" y2="1030.1" class="ln"/>
<line x1="424.4" y1="947.9" x2="526.2" y2="1094.5" class="ln"/>
<line x1="424.4" y1="1094.5" x2="526.2" y2="812.3" class="ln"/>
<line x1="424.4" y1="1094.5" x2="526.2" y2="878.1" class="ln"/>
<line x1="424.4" y1="1094.5" x2="526.2" y2="924.7" class="ln"/>
<line x1="424.4" y1="1094.5" x2="526.2" y2="998.6" class="ln"/>
<circle cx="424.4" cy="827.4" r="8.6" fill="#1b8a78" class="pt"/>
<circle cx="424.4" cy="857.5" r="8.6" fill="#1b8a78" class="pt"/>
<circle cx="424.4" cy="877.3" r="8.6" fill="#1b8a78" class="pt"/>
<circle cx="424.4" cy="887.1" r="8.6" fill="#1b8a78" class="pt"/>
<circle cx="424.4" cy="947.9" r="8.6" fill="#1b8a78" class="pt"/>
<circle cx="424.4" cy="1094.5" r="8.6" fill="#1b8a78" class="pt"/>
<circle cx="424.4" cy="1094.5" r="8.6" fill="#1b8a78" class="pt"/>
<circle cx="424.4" cy="1094.5" r="8.6" fill="#1b8a78" class="pt"/>
<circle cx="424.4" cy="1094.5" r="8.6" fill="#1b8a78" class="pt"/>
<circle cx="526.2" cy="891.8" r="8.6" fill="#31473f" class="pt"/>
<circle cx="526.2" cy="869.9" r="8.6" fill="#31473f" class="pt"/>
<circle cx="526.2" cy="898.6" r="8.6" fill="#31473f" class="pt"/>
<circle cx="526.2" cy="1030.1" r="8.6" fill="#31473f" class="pt"/>
<circle cx="526.2" cy="1094.5" r="8.6" fill="#31473f" class="pt"/>
<circle cx="526.2" cy="812.3" r="8.6" fill="#31473f" class="pt"/>
<circle cx="526.2" cy="878.1" r="8.6" fill="#31473f" class="pt"/>
<circle cx="526.2" cy="924.7" r="8.6" fill="#31473f" class="pt"/>
<circle cx="526.2" cy="998.6" r="8.6" fill="#31473f" class="pt"/>
<line x1="628.0" y1="827.4" x2="729.8" y2="1094.5" class="ln"/>
<line x1="628.0" y1="857.5" x2="729.8" y2="865.8" class="ln"/>
<line x1="628.0" y1="878.1" x2="729.8" y2="869.9" class="ln"/>
<line x1="628.0" y1="887.7" x2="729.8" y2="930.1" class="ln"/>
<line x1="628.0" y1="947.9" x2="729.8" y2="1094.5" class="ln"/>
<line x1="628.0" y1="1094.5" x2="729.8" y2="898.6" class="ln"/>
<line x1="628.0" y1="1094.5" x2="729.8" y2="923.3" class="ln"/>
<circle cx="628.0" cy="827.4" r="8.6" fill="#1b8a78" class="pt"/>
<circle cx="628.0" cy="857.5" r="8.6" fill="#1b8a78" class="pt"/>
<circle cx="628.0" cy="878.1" r="8.6" fill="#1b8a78" class="pt"/>
<circle cx="628.0" cy="887.7" r="8.6" fill="#1b8a78" class="pt"/>
<circle cx="628.0" cy="947.9" r="8.6" fill="#1b8a78" class="pt"/>
<circle cx="628.0" cy="1094.5" r="8.6" fill="#1b8a78" class="pt"/>
<circle cx="628.0" cy="1094.5" r="8.6" fill="#1b8a78" class="pt"/>
<circle cx="729.8" cy="1094.5" r="8.6" fill="#31473f" class="pt"/>
<circle cx="729.8" cy="865.8" r="8.6" fill="#31473f" class="pt"/>
<circle cx="729.8" cy="869.9" r="8.6" fill="#31473f" class="pt"/>
<circle cx="729.8" cy="930.1" r="8.6" fill="#31473f" class="pt"/>
<circle cx="729.8" cy="1094.5" r="8.6" fill="#31473f" class="pt"/>
<circle cx="729.8" cy="898.6" r="8.6" fill="#31473f" class="pt"/>
<circle cx="729.8" cy="923.3" r="8.6" fill="#31473f" class="pt"/>
<line x1="831.6" y1="850.1" x2="933.4" y2="809.2" class="ln"/>
<line x1="831.6" y1="891.8" x2="933.4" y2="1094.5" class="ln"/>
<line x1="831.6" y1="1094.5" x2="933.4" y2="982.9" class="ln"/>
<line x1="831.6" y1="1094.5" x2="933.4" y2="988.8" class="ln"/>
<circle cx="831.6" cy="850.1" r="8.6" fill="#1b8a78" class="pt"/>
<circle cx="831.6" cy="891.8" r="8.6" fill="#1b8a78" class="pt"/>
<circle cx="831.6" cy="1094.5" r="8.6" fill="#1b8a78" class="pt"/>
<circle cx="831.6" cy="1094.5" r="8.6" fill="#1b8a78" class="pt"/>
<circle cx="933.4" cy="809.2" r="8.6" fill="#31473f" class="pt"/>
<circle cx="933.4" cy="1094.5" r="8.6" fill="#31473f" class="pt"/>
<circle cx="933.4" cy="982.9" r="8.6" fill="#31473f" class="pt"/>
<circle cx="933.4" cy="988.8" r="8.6" fill="#31473f" class="pt"/>
</g>
<g id="bR">
<line x1="1172.7" y1="665.1" x2="1172.7" y2="1093.8" class="ax"/>
<line x1="1160.5" y1="1093.8" x2="2028.7" y2="1093.8" class="ax"/>
<line x1="1160.5" y1="666.10" x2="1172.7" y2="666.10" class="ax"/>
<line x1="1160.5" y1="773.02" x2="1172.7" y2="773.02" class="ax"/>
<line x1="1160.5" y1="879.95" x2="1172.7" y2="879.95" class="ax"/>
<line x1="1160.5" y1="986.88" x2="1172.7" y2="986.88" class="ax"/>
<line x1="1166.1" y1="740.84" x2="1172.7" y2="740.84" class="mt"/>
<line x1="1166.1" y1="722.01" x2="1172.7" y2="722.01" class="mt"/>
<line x1="1166.1" y1="708.65" x2="1172.7" y2="708.65" class="mt"/>
<line x1="1166.1" y1="698.29" x2="1172.7" y2="698.29" class="mt"/>
<line x1="1166.1" y1="689.82" x2="1172.7" y2="689.82" class="mt"/>
<line x1="1166.1" y1="682.66" x2="1172.7" y2="682.66" class="mt"/>
<line x1="1166.1" y1="676.46" x2="1172.7" y2="676.46" class="mt"/>
<line x1="1166.1" y1="670.99" x2="1172.7" y2="670.99" class="mt"/>
<line x1="1166.1" y1="847.76" x2="1172.7" y2="847.76" class="mt"/>
<line x1="1166.1" y1="828.93" x2="1172.7" y2="828.93" class="mt"/>
<line x1="1166.1" y1="815.57" x2="1172.7" y2="815.57" class="mt"/>
<line x1="1166.1" y1="805.21" x2="1172.7" y2="805.21" class="mt"/>
<line x1="1166.1" y1="796.75" x2="1172.7" y2="796.75" class="mt"/>
<line x1="1166.1" y1="789.59" x2="1172.7" y2="789.59" class="mt"/>
<line x1="1166.1" y1="783.39" x2="1172.7" y2="783.39" class="mt"/>
<line x1="1166.1" y1="777.92" x2="1172.7" y2="777.92" class="mt"/>
<line x1="1166.1" y1="954.69" x2="1172.7" y2="954.69" class="mt"/>
<line x1="1166.1" y1="935.86" x2="1172.7" y2="935.86" class="mt"/>
<line x1="1166.1" y1="922.50" x2="1172.7" y2="922.50" class="mt"/>
<line x1="1166.1" y1="912.14" x2="1172.7" y2="912.14" class="mt"/>
<line x1="1166.1" y1="903.67" x2="1172.7" y2="903.67" class="mt"/>
<line x1="1166.1" y1="896.51" x2="1172.7" y2="896.51" class="mt"/>
<line x1="1166.1" y1="890.31" x2="1172.7" y2="890.31" class="mt"/>
<line x1="1166.1" y1="884.84" x2="1172.7" y2="884.84" class="mt"/>
<line x1="1166.1" y1="1061.61" x2="1172.7" y2="1061.61" class="mt"/>
<line x1="1166.1" y1="1042.78" x2="1172.7" y2="1042.78" class="mt"/>
<line x1="1166.1" y1="1029.42" x2="1172.7" y2="1029.42" class="mt"/>
<line x1="1166.1" y1="1019.06" x2="1172.7" y2="1019.06" class="mt"/>
<line x1="1166.1" y1="1010.60" x2="1172.7" y2="1010.60" class="mt"/>
<line x1="1166.1" y1="1003.44" x2="1172.7" y2="1003.44" class="mt"/>
<line x1="1166.1" y1="997.24" x2="1172.7" y2="997.24" class="mt"/>
<line x1="1166.1" y1="991.77" x2="1172.7" y2="991.77" class="mt"/>
<text transform="translate(1155.70,676.50)" font-size="30" class="t" text-anchor="end" letter-spacing="1.4">10</text>
<text transform="translate(1155.70,783.42)" font-size="30" class="t" text-anchor="end" letter-spacing="1.4">1</text>
<text transform="translate(1155.70,890.35)" font-size="30" class="t" text-anchor="end" letter-spacing="1.4">0.1</text>
<text transform="translate(1155.70,997.27)" font-size="30" class="t" text-anchor="end" letter-spacing="1.4">0.01</text>
<text transform="translate(1155.70,1104.20)" font-size="30" class="t" text-anchor="end" letter-spacing="1.4">0</text>
<line x1="1241.10" y1="1093.8" x2="1241.10" y2="1105.6" class="ax"/>
<line x1="1343.60" y1="1093.8" x2="1343.60" y2="1105.6" class="ax"/>
<line x1="1446.10" y1="1093.8" x2="1446.10" y2="1105.6" class="ax"/>
<line x1="1548.60" y1="1093.8" x2="1548.60" y2="1105.6" class="ax"/>
<line x1="1651.10" y1="1093.8" x2="1651.10" y2="1105.6" class="ax"/>
<line x1="1753.60" y1="1093.8" x2="1753.60" y2="1105.6" class="ax"/>
<line x1="1856.10" y1="1093.8" x2="1856.10" y2="1105.6" class="ax"/>
<line x1="1958.60" y1="1093.8" x2="1958.60" y2="1105.6" class="ax"/>
<text transform="translate(1264.35,1130.40) scale(1.0,1.02)" font-size="30" class="t">S<tspan font-size="18.8" dy="-11.3">WT</tspan></text>
<text transform="translate(1473.35,1130.40) scale(1.0,1.02)" font-size="30" class="t">S<tspan font-size="18.8" dy="-11.3">D</tspan></text>
<text transform="translate(1680.05,1130.40) scale(1.0,1.02)" font-size="30" class="t">S<tspan font-size="18.8" dy="-11.3">O</tspan></text>
<text transform="translate(1885.95,1130.40) scale(1.0,1.02)" font-size="30" class="t">S<tspan font-size="18.8" dy="-11.3">B</tspan></text>
<text transform="translate(1552.86,670.80) scale(1.0,1.03)" font-size="29" class="t">V<tspan font-size="19" dy="5.8">N</tspan><tspan dy="-5.8">HR</tspan></text>
<text transform="translate(1083.50,1089.15) rotate(-90) scale(1.0,1.03)" font-size="29.1" class="t">CD25<tspan dy="-11.1">+</tspan><tspan dy="11.1"> CD69</tspan><tspan dy="-11.1">+</tspan><tspan dy="11.1"> CD8</tspan><tspan dy="-11.1">+</tspan><tspan dy="11.1"> T cells (%)</tspan></text>
<line x1="1241.1" y1="875.6" x2="1350.0" y2="932.9" class="ln"/>
<line x1="1241.1" y1="933.8" x2="1350.0" y2="818.4" class="ln"/>
<line x1="1241.1" y1="936" x2="1350.0" y2="869.3" class="ln"/>
<line x1="1241.1" y1="940.8" x2="1350.0" y2="926.5" class="ln"/>
<line x1="1241.1" y1="950.4" x2="1350.0" y2="950.4" class="ln"/>
<line x1="1241.1" y1="959.3" x2="1350.0" y2="905.9" class="ln"/>
<line x1="1241.1" y1="991.1" x2="1350.0" y2="890" class="ln"/>
<line x1="1241.1" y1="1029.3" x2="1350.0" y2="984.7" class="ln"/>
<line x1="1241.1" y1="1093.8" x2="1350.0" y2="771.6" class="ln"/>
<line x1="1241.1" y1="1093.8" x2="1350.0" y2="942.4" class="ln"/>
<circle cx="1241.1" cy="875.6" r="8.6" fill="#1b8a78" class="pt"/>
<circle cx="1241.1" cy="933.8" r="8.6" fill="#1b8a78" class="pt"/>
<circle cx="1241.1" cy="936" r="8.6" fill="#1b8a78" class="pt"/>
<circle cx="1241.1" cy="940.8" r="8.6" fill="#1b8a78" class="pt"/>
<circle cx="1241.1" cy="950.4" r="8.6" fill="#1b8a78" class="pt"/>
<circle cx="1241.1" cy="959.3" r="8.6" fill="#1b8a78" class="pt"/>
<circle cx="1241.1" cy="991.1" r="8.6" fill="#1b8a78" class="pt"/>
<circle cx="1241.1" cy="1029.3" r="8.6" fill="#1b8a78" class="pt"/>
<circle cx="1241.1" cy="1093.8" r="8.6" fill="#1b8a78" class="pt"/>
<circle cx="1241.1" cy="1093.8" r="8.6" fill="#1b8a78" class="pt"/>
<circle cx="1350.0" cy="932.9" r="8.6" fill="#31473f" class="pt"/>
<circle cx="1350.0" cy="818.4" r="8.6" fill="#31473f" class="pt"/>
<circle cx="1350.0" cy="869.3" r="8.6" fill="#31473f" class="pt"/>
<circle cx="1350.0" cy="926.5" r="8.6" fill="#31473f" class="pt"/>
<circle cx="1350.0" cy="950.4" r="8.6" fill="#31473f" class="pt"/>
<circle cx="1350.0" cy="905.9" r="8.6" fill="#31473f" class="pt"/>
<circle cx="1350.0" cy="890" r="8.6" fill="#31473f" class="pt"/>
<circle cx="1350.0" cy="984.7" r="8.6" fill="#31473f" class="pt"/>
<circle cx="1350.0" cy="771.6" r="8.6" fill="#31473f" class="pt"/>
<circle cx="1350.0" cy="942.4" r="8.6" fill="#31473f" class="pt"/>
<circle cx="1343.6" cy="1086.5" r="8.6" fill="#31473f" class="pt"/>
<line x1="1446.1" y1="889" x2="1548.6" y2="903.6" class="ln"/>
<line x1="1446.1" y1="900" x2="1548.6" y2="936.4" class="ln"/>
<line x1="1446.1" y1="906.8" x2="1548.6" y2="1093.8" class="ln"/>
<line x1="1446.1" y1="938.4" x2="1548.6" y2="914.5" class="ln"/>
<line x1="1446.1" y1="954" x2="1548.6" y2="841.1" class="ln"/>
<line x1="1446.1" y1="967.1" x2="1548.6" y2="863.6" class="ln"/>
<line x1="1446.1" y1="962" x2="1548.6" y2="906" class="ln"/>
<line x1="1446.1" y1="986.3" x2="1548.6" y2="1093.8" class="ln"/>
<line x1="1446.1" y1="1093.8" x2="1548.6" y2="875.3" class="ln"/>
<line x1="1446.1" y1="1093.8" x2="1548.6" y2="952.1" class="ln"/>
<circle cx="1446.1" cy="889" r="8.6" fill="#1b8a78" class="pt"/>
<circle cx="1446.1" cy="900" r="8.6" fill="#1b8a78" class="pt"/>
<circle cx="1446.1" cy="906.8" r="8.6" fill="#1b8a78" class="pt"/>
<circle cx="1446.1" cy="938.4" r="8.6" fill="#1b8a78" class="pt"/>
<circle cx="1446.1" cy="954" r="8.6" fill="#1b8a78" class="pt"/>
<circle cx="1446.1" cy="967.1" r="8.6" fill="#1b8a78" class="pt"/>
<circle cx="1446.1" cy="962" r="8.6" fill="#1b8a78" class="pt"/>
<circle cx="1446.1" cy="986.3" r="8.6" fill="#1b8a78" class="pt"/>
<circle cx="1446.1" cy="995.9" r="8.6" fill="#1b8a78" class="pt"/>
<circle cx="1446.1" cy="1093.8" r="8.6" fill="#1b8a78" class="pt"/>
<circle cx="1446.1" cy="1093.8" r="8.6" fill="#1b8a78" class="pt"/>
<circle cx="1548.6" cy="903.6" r="8.6" fill="#31473f" class="pt"/>
<circle cx="1548.6" cy="936.4" r="8.6" fill="#31473f" class="pt"/>
<circle cx="1548.6" cy="1093.8" r="8.6" fill="#31473f" class="pt"/>
<circle cx="1548.6" cy="914.5" r="8.6" fill="#31473f" class="pt"/>
<circle cx="1548.6" cy="841.1" r="8.6" fill="#31473f" class="pt"/>
<circle cx="1548.6" cy="863.6" r="8.6" fill="#31473f" class="pt"/>
<circle cx="1548.6" cy="906" r="8.6" fill="#31473f" class="pt"/>
<circle cx="1548.6" cy="1093.8" r="8.6" fill="#31473f" class="pt"/>
<circle cx="1548.6" cy="875.3" r="8.6" fill="#31473f" class="pt"/>
<circle cx="1548.6" cy="952.1" r="8.6" fill="#31473f" class="pt"/>
<circle cx="1548.6" cy="823.3" r="8.6" fill="#31473f" class="pt"/>
<line x1="1651.1" y1="922.5" x2="1753.6" y2="927.1" class="ln"/>
<line x1="1651.1" y1="928.7" x2="1753.6" y2="941" class="ln"/>
<line x1="1651.1" y1="952.5" x2="1753.6" y2="986.8" class="ln"/>
<line x1="1651.1" y1="1093.8" x2="1753.6" y2="781" class="ln"/>
<line x1="1651.1" y1="1093.8" x2="1753.6" y2="839.9" class="ln"/>
<line x1="1651.1" y1="1093.8" x2="1753.6" y2="954.5" class="ln"/>
<line x1="1651.1" y1="1093.8" x2="1753.6" y2="966.6" class="ln"/>
<line x1="1651.1" y1="1093.8" x2="1753.6" y2="974.5" class="ln"/>
<line x1="1651.1" y1="1093.8" x2="1753.6" y2="983" class="ln"/>
<line x1="1651.1" y1="1093.8" x2="1753.6" y2="1093.8" class="ln"/>
<circle cx="1651.1" cy="922.5" r="8.6" fill="#1b8a78" class="pt"/>
<circle cx="1651.1" cy="928.7" r="8.6" fill="#1b8a78" class="pt"/>
<circle cx="1651.1" cy="952.5" r="8.6" fill="#1b8a78" class="pt"/>
<circle cx="1651.1" cy="1093.8" r="8.6" fill="#1b8a78" class="pt"/>
<circle cx="1651.1" cy="1093.8" r="8.6" fill="#1b8a78" class="pt"/>
<circle cx="1651.1" cy="1093.8" r="8.6" fill="#1b8a78" class="pt"/>
<circle cx="1651.1" cy="1093.8" r="8.6" fill="#1b8a78" class="pt"/>
<circle cx="1651.1" cy="1093.8" r="8.6" fill="#1b8a78" class="pt"/>
<circle cx="1651.1" cy="1093.8" r="8.6" fill="#1b8a78" class="pt"/>
<circle cx="1651.1" cy="1093.8" r="8.6" fill="#1b8a78" class="pt"/>
<circle cx="1753.6" cy="927.1" r="8.6" fill="#31473f" class="pt"/>
<circle cx="1753.6" cy="941" r="8.6" fill="#31473f" class="pt"/>
<circle cx="1753.6" cy="986.8" r="8.6" fill="#31473f" class="pt"/>
<circle cx="1753.6" cy="781" r="8.6" fill="#31473f" class="pt"/>
<circle cx="1753.6" cy="839.9" r="8.6" fill="#31473f" class="pt"/>
<circle cx="1753.6" cy="954.5" r="8.6" fill="#31473f" class="pt"/>
<circle cx="1753.6" cy="966.6" r="8.6" fill="#31473f" class="pt"/>
<circle cx="1753.6" cy="974.5" r="8.6" fill="#31473f" class="pt"/>
<circle cx="1753.6" cy="983" r="8.6" fill="#31473f" class="pt"/>
<circle cx="1753.6" cy="1093.8" r="8.6" fill="#31473f" class="pt"/>
<line x1="1856.1" y1="922.5" x2="1958.6" y2="927.1" class="ln"/>
<line x1="1856.1" y1="928.7" x2="1958.6" y2="941" class="ln"/>
<line x1="1856.1" y1="952.5" x2="1958.6" y2="986.8" class="ln"/>
<line x1="1856.1" y1="1093.8" x2="1958.6" y2="781" class="ln"/>
<line x1="1856.1" y1="1093.8" x2="1958.6" y2="839.9" class="ln"/>
<line x1="1856.1" y1="1093.8" x2="1958.6" y2="954.5" class="ln"/>
<line x1="1856.1" y1="1093.8" x2="1958.6" y2="966.6" class="ln"/>
<line x1="1856.1" y1="1093.8" x2="1958.6" y2="974.5" class="ln"/>
<line x1="1856.1" y1="1093.8" x2="1958.6" y2="983" class="ln"/>
<line x1="1856.1" y1="1093.8" x2="1958.6" y2="1093.8" class="ln"/>
<circle cx="1856.1" cy="922.5" r="8.6" fill="#1b8a78" class="pt"/>
<circle cx="1856.1" cy="928.7" r="8.6" fill="#1b8a78" class="pt"/>
<circle cx="1856.1" cy="952.5" r="8.6" fill="#1b8a78" class="pt"/>
<circle cx="1856.1" cy="1093.8" r="8.6" fill="#1b8a78" class="pt"/>
<circle cx="1856.1" cy="1093.8" r="8.6" fill="#1b8a78" class="pt"/>
<circle cx="1856.1" cy="1093.8" r="8.6" fill="#1b8a78" class="pt"/>
<circle cx="1856.1" cy="1093.8" r="8.6" fill="#1b8a78" class="pt"/>
<circle cx="1856.1" cy="1093.8" r="8.6" fill="#1b8a78" class="pt"/>
<circle cx="1856.1" cy="1093.8" r="8.6" fill="#1b8a78" class="pt"/>
<circle cx="1856.1" cy="1093.8" r="8.6" fill="#1b8a78" class="pt"/>
<circle cx="1958.6" cy="927.1" r="8.6" fill="#31473f" class="pt"/>
<circle cx="1958.6" cy="941" r="8.6" fill="#31473f" class="pt"/>
<circle cx="1958.6" cy="986.8" r="8.6" fill="#31473f" class="pt"/>
<circle cx="1958.6" cy="781" r="8.6" fill="#31473f" class="pt"/>
<circle cx="1958.6" cy="839.9" r="8.6" fill="#31473f" class="pt"/>
<circle cx="1958.6" cy="954.5" r="8.6" fill="#31473f" class="pt"/>
<circle cx="1958.6" cy="966.6" r="8.6" fill="#31473f" class="pt"/>
<circle cx="1958.6" cy="974.5" r="8.6" fill="#31473f" class="pt"/>
<circle cx="1958.6" cy="983" r="8.6" fill="#31473f" class="pt"/>
<circle cx="1958.6" cy="1093.8" r="8.6" fill="#31473f" class="pt"/>
</g>
<line x1="1226.6" y1="124.3" x2="1322.9" y2="124.3" class="ax"/>
<text transform="translate(1271.40,122.10)" font-size="22" class="st" text-anchor="middle">*</text>
<line x1="1234" y1="712.3" x2="1330" y2="712.3" class="ax"/>
<text transform="translate(1278.50,710.10)" font-size="22" class="st" text-anchor="middle">*</text>
<circle cx="2003" cy="81.9" r="8.8" fill="#1b8a78" class="pt"/>
<circle cx="2003" cy="119.3" r="8.8" fill="#31473f" class="pt"/>
<text transform="translate(2015.70,92.80)" font-size="30.3" class="t">6M</text>
<text transform="translate(2015.70,129.70)" font-size="30.3" class="t">10M</text>
<circle cx="2003" cy="672.9" r="8.8" fill="#1b8a78" class="pt"/>
<circle cx="2003" cy="709.8" r="8.8" fill="#31473f" class="pt"/>
<text transform="translate(2015.70,683.30)" font-size="30.3" class="t">6M</text>
<text transform="translate(2015.70,720.20)" font-size="30.3" class="t">10M</text>
<text transform="translate(-2.50,17.40)" font-size="33.5" class="pl">a</text>
<text transform="translate(-2.50,606.90)" font-size="33.5" class="pl">b</text>
</svg>
</body></html>
